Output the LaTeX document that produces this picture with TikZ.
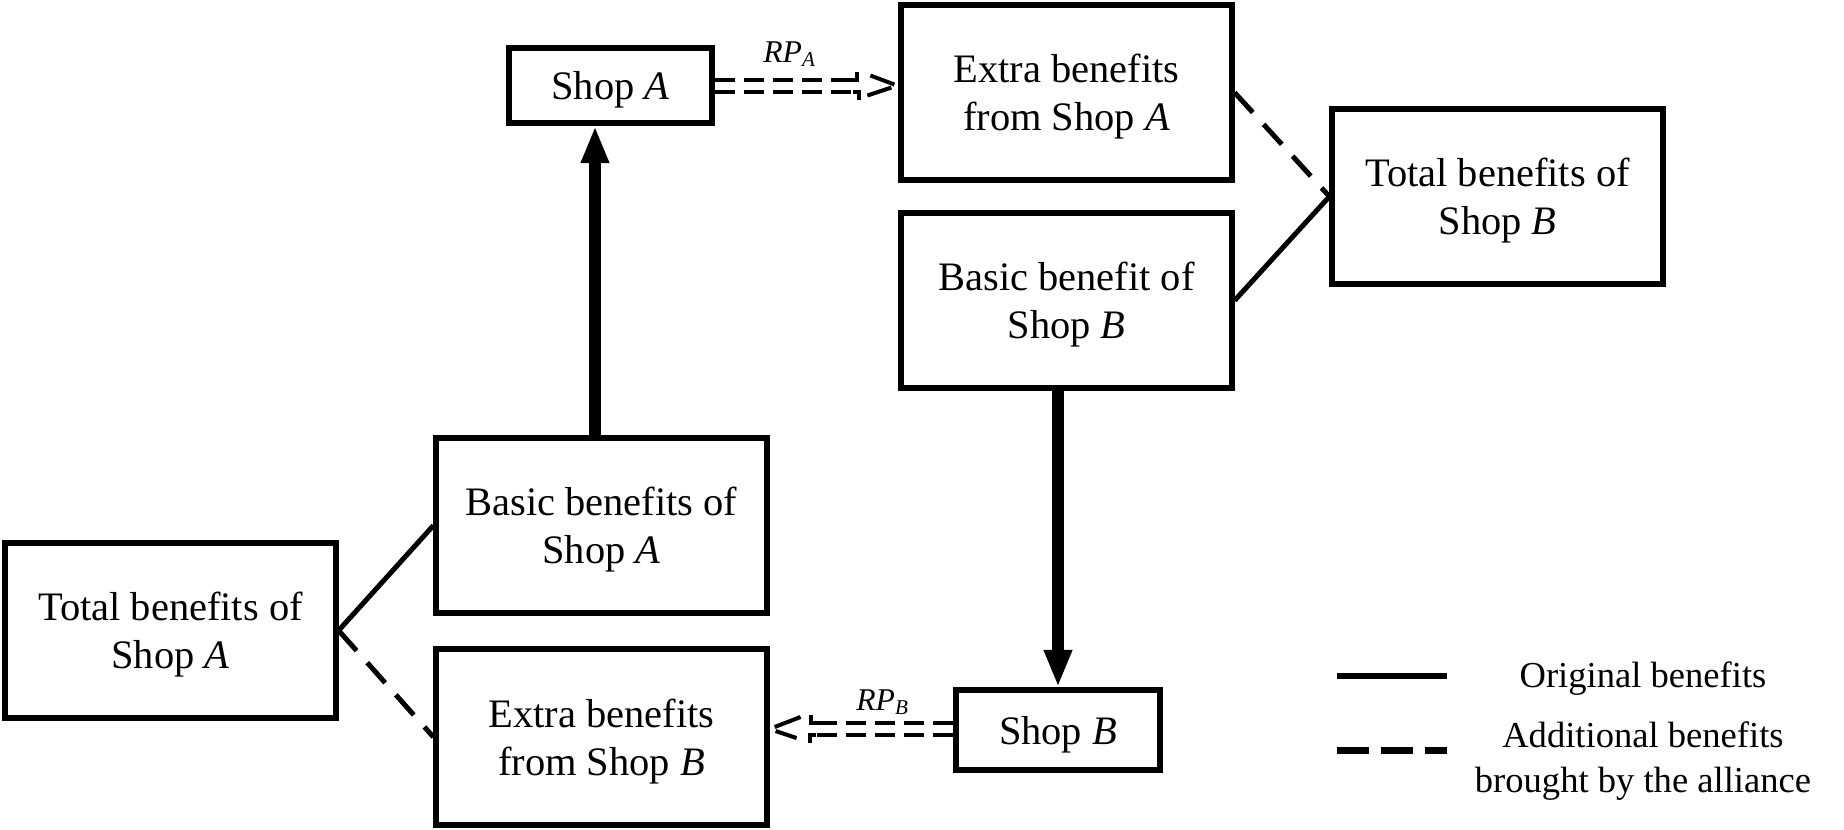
\documentclass[tikz,border=0pt]{standalone}
\usepackage{fontspec}
\setmainfont{Liberation Serif}
\usetikzlibrary{arrows.meta,calc}
\begin{document}
\begin{tikzpicture}[x=0.01cm,y=-0.01cm,
  boxtext/.style={font=\fontsize{11.5}{13.7}\selectfont, text depth=0pt},
  bigbox/.style={draw, line width=0.06cm, minimum width=3.30cm, minimum height=1.75cm, inner sep=0pt, align=center, boxtext},
  shopbox/.style={draw, line width=0.06cm, minimum width=2.03cm, inner sep=0pt, align=center, boxtext},
  link/.style={line width=0.05cm},
  altlink/.style={line width=0.05cm, dash pattern=on 0.27cm off 0.16cm},
  flow/.style={line width=0.12cm, -{Triangle[length=0.37cm,width=0.26cm]}},
  dline/.style={line width=0.04cm, dash pattern=on 0.20cm off 0.09cm},
  tickline/.style={line width=0.04cm},
  rplabel/.style={font=\fontsize{9}{10}\selectfont\itshape, inner sep=0pt},
  legtext/.style={font=\fontsize{10.4}{12.6}\selectfont, align=center, inner sep=0pt},
  legsolid/.style={line width=0.065cm},
  legdash/.style={line width=0.07cm, dash pattern=on 0.32cm off 0.12cm}
]
\useasboundingbox (0,0) rectangle (1844,829);

% boxes
\node[shopbox, minimum height=0.75cm] (shopA) at (610.5,85.5) {Shop \textit{A}};
\node[bigbox] (extraA) at (1066.5,92.5) {Extra benefits\\from Shop \textit{A}};
\node[bigbox] (totalB) at (1497.5,196.5) {Total benefits of\\Shop \textit{B}};
\node[bigbox] (basicB) at (1066.5,300.5) {Basic benefit of\\Shop \textit{B}};
\node[bigbox] (basicA) at (601.5,525.5) {Basic benefits of\\Shop \textit{A}};
\node[bigbox] (totalA) at (170.5,630.5) {Total benefits of\\Shop \textit{A}};
\node[bigbox] (extraB) at (601.5,737) {Extra benefits\\from Shop \textit{B}};
\node[shopbox, minimum height=0.80cm] (shopB) at (1058,730) {Shop \textit{B}};

% plain and dashed links
\draw[link] (totalA.east) -- (basicA.west);
\draw[altlink] (totalA.east) -- (extraB.west);
\draw[altlink] (extraA.east) -- (totalB.west);
\draw[link] (basicB.east) -- (totalB.west);

% thick arrows
\draw[flow] (basicA.north -| 595,0) -- (shopA.south -| 595,0);
\draw[flow] (basicB.south -| shopB.north) -- (shopB.north);

% double dashed arrow RP_A
\coordinate (tipA) at ($(extraA.west |- shopA.east)+(-3,0)$);
\draw[dline] ($(shopA.east)+(0,-6)$) -- ($(tipA)+(-38,-6)$);
\draw[dline] ($(shopA.east)+(0,6)$) -- ($(tipA)+(-36,6)$);
\draw[tickline] ($(tipA)+(-44,-6)$) -- ($(tipA)+(-38,-6)$) -- ($(tipA)+(-38,-14)$);
\draw[tickline] ($(tipA)+(-42,6)$) -- ($(tipA)+(-36,6)$) -- ($(tipA)+(-36,14)$);
\draw[tickline] ($(tipA)+(-25,-10)$) -- ($(tipA)+(-1,-1)$);
\draw[tickline] ($(tipA)+(-28,10)$) -- ($(tipA)+(-4,2)$);
\node[rplabel] (rpA) at (790,54) {RP\textsubscript{A}};

% double dashed arrow RP_B
\coordinate (tipB) at ($(extraB.east |- shopB.west)+(3,-1)$);
\draw[dline] ($(shopB.west)+(0,-7)$) -- ($(tipB)+(38,-6)$);
\draw[dline] ($(shopB.west)+(0,5)$) -- ($(tipB)+(37,6)$);
\draw[tickline] ($(tipB)+(44,-6)$) -- ($(tipB)+(38,-6)$) -- ($(tipB)+(38,-14)$);
\draw[tickline] ($(tipB)+(43,6)$) -- ($(tipB)+(37,6)$) -- ($(tipB)+(37,14)$);
\draw[tickline] ($(tipB)+(28,-12)$) -- ($(tipB)+(2,-2)$);
\draw[tickline] ($(tipB)+(3,2)$) -- ($(tipB)+(24,9)$);
\node[rplabel] (rpB) at (883,702) {RP\textsubscript{B}};

% legend
\coordinate (legSa) at (1337,676);
\coordinate (legSb) at (1447,676);
\coordinate (legDa) at (1337,750);
\coordinate (legDb) at (1447,750);
\draw[legsolid] (legSa) -- (legSb);
\draw[legdash] (legDa) -- (legDb);
\node[legtext] (legT1) at (1643,679) {Original benefits};
\node[legtext] (legT2) at (1643,761) {Additional benefits\\brought by the alliance};
\end{tikzpicture}
\end{document}
